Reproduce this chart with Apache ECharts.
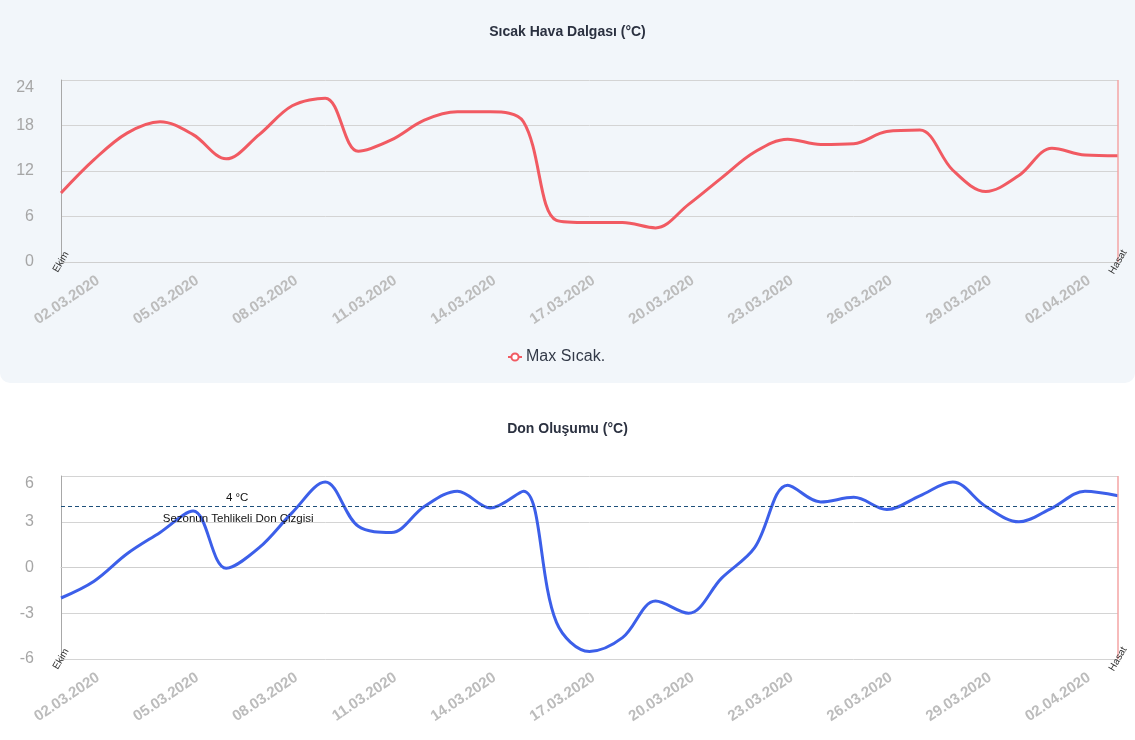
<!DOCTYPE html>
<html>
<head>
<meta charset="utf-8">
<script src="https://cdn.jsdelivr.net/npm/echarts@6/dist/echarts.min.js"></script>
<style>
  html, body { margin: 0; padding: 0; background: #ffffff; overflow: hidden; }
  #top { width: 1135px; height: 383px; background: #f2f6fa; border-radius: 0 0 10px 10px; }
  #bottom { width: 1135px; height: 357px; background: #ffffff; }
</style>
</head>
<body>
<div id="top"></div>
<div id="bottom"></div>
<script>
// ---- data ----
const dates = [
  '01.03.2020','02.03.2020','03.03.2020','04.03.2020','05.03.2020','06.03.2020','07.03.2020',
  '08.03.2020','09.03.2020','10.03.2020','11.03.2020','12.03.2020','13.03.2020','14.03.2020',
  '15.03.2020','16.03.2020','17.03.2020','18.03.2020','19.03.2020','20.03.2020','21.03.2020',
  '22.03.2020','23.03.2020','24.03.2020','25.03.2020','26.03.2020','27.03.2020','28.03.2020',
  '29.03.2020','30.03.2020','31.03.2020','02.04.2020','03.04.2020'
];
const maxTemps = [9.1, 13.5, 17.0, 18.5, 16.8, 13.6, 16.8, 20.6, 21.6, 14.6, 16.1, 18.7, 19.8, 19.8,
  18.5, 5.5, 5.2, 5.2, 4.5, 7.6, 11.1, 14.5, 16.2, 15.5, 15.6, 17.2, 17.4, 12.1, 9.3, 11.4, 15.0, 14.1, 14.0];
const minTemps = [-2.0, -0.9, 0.9, 2.3, 3.7, -0.05, 1.3, 3.6, 5.6, 2.7, 2.3, 4.0, 5.0, 3.9, 5.0,
  -3.6, -5.5, -4.6, -2.2, -3.0, -0.7, 1.3, 5.4, 4.3, 4.6, 3.8, 4.7, 5.6, 4.0, 3.0, 3.9, 5.0, 4.7];
const topTicks = { min: 0, max: 24, interval: 6 };
const bottomTicks = { min: -6, max: 6, interval: 3 };
const frostLine = 4;
const startLabel = 'Ekim';
const endLabel = 'Hasat';
const frostTexts = ['4 °C', 'Sezonun Tehlikeli Don Çizgisi'];

const FONT = 'Liberation Sans, Arial, sans-serif';

function buildOption(title, titleTop, seriesName, values, color, ticks, grid, legend, extra) {
  const last = dates.length - 1;
  const series = {
    name: seriesName,
    type: 'line',
    data: values,
    smooth: 0.35,
    showSymbol: false,
    symbol: 'emptyCircle',
    symbolSize: 7,
    lineStyle: { color: color, width: 3 },
    itemStyle: { color: color },
    markLine: {
      silent: true,
      symbol: 'none',
      animation: false,
      data: [
        { xAxis: last, lineStyle: { color: '#f5a5a5', type: 'solid', width: 1.5 }, label: { show: false } }
      ].concat(extra ? [{ yAxis: frostLine, lineStyle: { color: '#1d4f7a', type: [4, 3], width: 1 }, label: { show: false } }] : [])
    },
    markPoint: {
      silent: true,
      animation: false,
      symbol: 'circle',
      symbolSize: 0,
      data: [
        { coord: [0, ticks.min], label: { show: true, formatter: startLabel, position: 'inside', rotate: 60, fontSize: 10, color: '#333', fontFamily: FONT } },
        { coord: [last, ticks.min], label: { show: true, formatter: endLabel, position: 'inside', rotate: 60, fontSize: 10, color: '#333', fontFamily: FONT } }
      ].concat(extra ? [
        { coord: [5, frostLine], label: { show: true, formatter: frostTexts[0], position: 'inside', offset: [11, -9], fontSize: 11.5, color: '#111', fontFamily: FONT } },
        { coord: [5, frostLine], label: { show: true, formatter: frostTexts[1], position: 'inside', offset: [12, 12], fontSize: 11.5, color: '#111', fontFamily: FONT } }
      ] : [])
    }
  };
  return {
    animation: false,
    title: {
      text: title, left: 'center', top: titleTop,
      textStyle: { fontSize: 14, fontWeight: 'bold', color: '#2b3140', fontFamily: FONT }
    },
    legend: legend ? {
      show: true, bottom: 13, left: 502, itemWidth: 14, itemHeight: 9, itemGap: 10,
      textStyle: { fontSize: 16, color: '#333a48', fontFamily: FONT, padding: [0, 0, 0, -1] },
      data: [seriesName]
    } : { show: false },
    grid: grid,
    xAxis: {
      type: 'category',
      data: dates,
      boundaryGap: false,
      axisLine: { show: true, lineStyle: { color: '#cfcfcf' } },
      axisTick: { show: false },
      splitLine: { show: false },
      axisLabel: {
        interval: function (i) { return i % 3 === 1; },
        rotate: 34,
        margin: 20,
        fontSize: 15,
        fontWeight: 'bold',
        color: '#bcbcbc',
        padding: [0, -5, 0, 0],
        fontFamily: FONT
      }
    },
    yAxis: {
      type: 'value',
      min: ticks.min, max: ticks.max, interval: ticks.interval,
      axisLine: { show: true, lineStyle: { color: '#a8a8a8' } },
      axisTick: { show: false },
      splitLine: { show: true, lineStyle: { color: '#d4d4d4' } },
      axisLabel: {
        fontSize: 16, color: '#a6a6a6', margin: 27,
        verticalAlignMaxLabel: 'top',
        fontFamily: FONT
      }
    },
    series: [series]
  };
}

const topChart = echarts.init(document.getElementById('top'), null, { renderer: 'canvas' });
topChart.setOption(buildOption('Sıcak Hava Dalgası (°C)', 20, 'Max Sıcak.', maxTemps, '#f15a62', topTicks,
  { left: 61, right: 17, top: 80, bottom: 121 }, true, false));

const bottomChart = echarts.init(document.getElementById('bottom'), null, { renderer: 'canvas' });
bottomChart.setOption(buildOption('Don Oluşumu (°C)', 34, 'Min Sıcak.', minTemps, '#3c5fe9', bottomTicks,
  { left: 61, right: 17, top: 93, bottom: 81 }, false, true));
</script>
</body>
</html>
